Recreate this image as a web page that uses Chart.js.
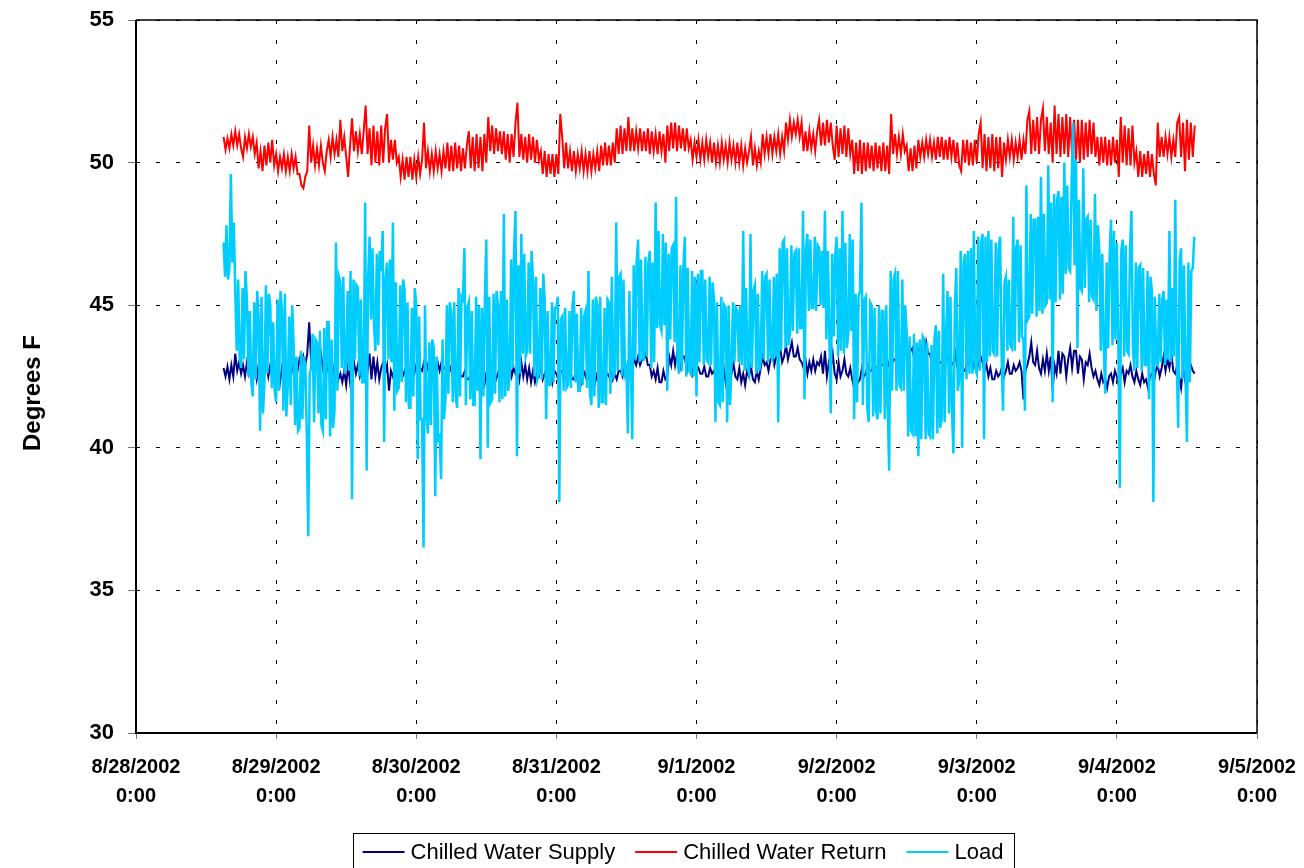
<!DOCTYPE html>
<html><head><meta charset="utf-8">
<script src="https://cdn.jsdelivr.net/npm/chart.js@4.4.1/dist/chart.umd.min.js"></script>
<style>html,body{margin:0;padding:0;background:#fff}#wrap{width:1304px;height:868px}</style>
</head><body><div id="wrap"><canvas id="c" width="1304" height="868"></canvas></div>
<script>
// time axis in hours from 8/28/2002 0:00
const startHour = 15;          // first reading 8/28/2002 15:00
const loadStepMin = 15;        // Load readings every 15 min
const tempStepMin = 20;        // supply/return readings every 20 min
const xTickLabels = [
  ['8/28/2002','0:00'],['8/29/2002','0:00'],['8/30/2002','0:00'],['8/31/2002','0:00'],
  ['9/1/2002','0:00'],['9/2/2002','0:00'],['9/3/2002','0:00'],['9/4/2002','0:00'],['9/5/2002','0:00']
];
const seriesNames = ['Chilled Water Supply','Chilled Water Return','Load'];
const yAxisTitle = 'Degrees F';

const supply = [
42.8,42.5,42.85,42.4,42.9,42.5,43.3,42.7,43.0,42.6,42.9,42.5,43.0,42.6,42.9,42.5,42.8,42.4,42.9,42.5,43.0,42.6,43.0,42.5,42.9,42.5,42.8,
42.4,42.7,42.3,42.8,42.4,42.7,42.3,42.5,42.9,42.6,43.0,42.7,43.1,42.8,43.2,42.9,43.3,44.4,43.0,43.3,42.9,43.2,42.9,43.3,42.8,43.1,42.7,
43.0,42.6,42.9,42.5,42.8,42.4,42.6,42.3,42.7,42.2,42.9,42.3,42.7,43.0,42.6,42.9,42.5,42.8,42.6,43.1,42.7,43.3,42.4,43.2,42.5,43.0,42.4,
42.8,43.0,42.6,42.9,42.0,42.7,42.5,42.8,42.4,42.6,42.9,42.5,42.7,42.4,42.8,42.5,42.8,42.6,
42.9,42.5,42.8,42.7,43.0,42.6,42.9,42.6,43.0,43.1,42.7,43.0,42.7,43.0,42.8,42.8,42.5,42.9,42.7,42.9,42.5,42.6,42.8,42.5,
42.5,42.7,42.4,42.4,42.6,42.3,42.2,42.5,42.1,42.0,42.4,42.2,42.6,42.3,42.5,42.5,42.8,42.4,42.6,42.9,42.5,42.7,42.4,42.8,
42.9,42.5,42.8,42.6,42.8,42.4,43.0,42.5,42.9,42.4,42.8,42.3,42.7,42.3,42.6,42.5,42.9,42.4,42.6,42.4,42.8,42.8,42.3,42.7,
42.6,42.4,42.7,42.7,42.3,42.6,42.5,42.8,42.4,42.4,42.7,42.3,42.6,42.3,42.7,42.5,42.8,42.4,42.4,42.7,42.3,42.6,42.3,42.7,
42.7,42.4,42.6,42.5,42.8,42.4,42.6,42.4,42.7,42.7,42.5,42.8,42.6,42.9,42.7,42.8,43.1,42.9,43.2,42.9,43.1,43.1,43.3,42.9,
42.9,42.5,42.7,42.4,42.8,42.3,42.3,42.7,42.4,42.5,43.2,42.9,43.4,42.9,43.3,43.1,42.8,43.2,43.2,42.7,43.1,43.0,42.6,42.9,
42.7,42.8,42.6,42.6,42.85,42.5,42.5,42.8,42.6,42.7,42.4,42.8,42.9,42.5,42.8,42.3,42.8,42.4,42.6,42.95,42.5,42.4,42.8,42.3,
42.6,42.2,42.7,42.5,42.85,42.4,42.3,42.7,42.4,42.8,43.2,42.9,43.0,42.7,43.1,43.3,42.9,43.2,43.1,43.5,43.0,43.2,43.6,43.1,
43.4,43.7,43.2,43.2,43.5,43.1,43.0,42.8,43.1,42.6,43.0,42.7,43.1,42.7,43.0,42.9,43.2,42.6,43.4,42.5,43.0,42.8,43.3,42.6,
42.4,43.0,42.5,42.7,43.1,42.6,42.5,42.8,42.4,42.1,42.6,42.3,42.4,42.8,42.5,42.6,42.9,42.7,42.7,43.0,42.8,42.8,43.1,42.9,
42.9,43.2,42.8,43.0,42.7,43.1,43.1,42.9,43.2,43.2,43.0,43.3,43.3,43.1,43.4,43.5,43.0,43.4,43.4,43.6,43.2,43.2,43.7,43.3,
43.3,42.9,43.2,43.1,42.8,43.0,43.0,42.7,43.1,43.2,42.8,43.0,42.9,43.3,42.8,42.8,43.1,42.7,42.7,43.0,42.9,43.2,42.8,43.1,
43.1,42.9,43.2,43.0,42.7,42.9,42.5,42.8,42.4,42.4,42.7,42.5,42.6,42.85,42.5,42.7,43.0,42.6,42.6,42.9,42.7,42.8,43.0,42.7,
41.7,42.7,42.9,43.2,43.7,43.0,42.9,43.4,42.8,42.6,43.1,42.7,43.3,42.7,43.2,42.0,42.9,42.6,43.4,42.6,43.3,43.2,42.5,43.1,
43.5,42.8,43.4,43.4,42.6,43.2,43.1,42.4,43.0,42.9,43.3,42.8,42.5,42.7,42.4,42.2,42.6,42.3,42.4,42.1,42.5,42.6,42.3,42.7,
42.5,42.2,42.6,42.8,42.3,42.7,42.6,42.9,42.5,42.3,42.7,42.4,42.2,42.6,42.3,42.4,42.1,42.5,42.6,42.3,42.7,42.9,42.5,42.8,
43.2,42.7,43.1,42.8,43.3,42.7,42.6,42.9,42.5,42.1,42.8,42.4,43.0,42.5,42.9,42.7,42.6
];

const ret = [
50.9,50.45,50.85,50.5,51.0,50.6,51.1,50.6,51.0,50.5,50.2,50.9,50.5,51.0,50.55,50.9,50.3,50.7,49.8,50.4,49.7,50.6,49.9,50.7,50.0,50.8,49.9,
50.3,49.7,50.2,49.8,50.3,49.7,50.2,49.7,50.3,49.8,50.2,49.6,49.6,49.2,49.1,49.5,49.7,51.3,50.0,50.6,49.9,50.5,49.9,50.6,50.0,49.7,50.4,
50.8,50.2,50.9,50.3,50.8,50.2,51.5,50.4,50.9,50.2,49.5,50.6,51.55,50.4,51.1,50.4,51.0,50.3,51.1,52.0,50.3,51.2,49.9,51.3,50.0,51.1,49.9,
51.3,50.0,51.2,51.7,50.0,50.8,50.1,50.8,50.0,50.2,49.5,50.1,49.4,50.2,49.5,50.2,49.4,50.1,
49.5,50.2,49.6,50.1,51.4,49.8,50.4,49.7,50.3,49.7,50.4,49.8,50.3,49.7,50.4,49.8,50.7,49.7,50.6,49.7,50.7,49.8,50.6,49.7,
50.5,49.8,50.6,51.1,49.8,50.9,49.7,51.0,49.8,50.9,49.7,51.0,50.0,51.6,50.4,51.3,50.3,51.2,50.4,51.1,50.3,51.1,50.1,51.0,
50.0,51.0,50.2,51.4,52.1,50.2,51.0,50.1,50.9,50.0,51.0,50.1,50.9,50.0,50.8,50.1,50.4,49.6,50.4,49.5,50.3,49.6,50.3,49.5,
50.3,49.6,51.7,50.9,49.8,50.7,49.8,50.4,49.7,50.4,49.7,50.3,49.8,50.4,49.7,50.3,49.7,50.4,49.7,50.3,49.8,50.4,49.7,50.6,
49.9,50.7,49.9,50.6,49.9,50.7,50.0,51.2,50.3,51.3,50.3,51.2,50.4,51.6,50.4,51.2,50.4,51.1,50.5,51.2,50.4,51.1,50.4,51.2,
50.3,51.1,50.4,51.0,50.3,51.1,50.4,51.0,50.0,51.3,50.4,51.4,50.5,51.4,50.4,51.3,50.5,51.2,50.4,51.2,50.5,50.8,50.1,50.7,
50.2,50.8,50.1,50.7,50.1,50.8,50.2,50.7,50.0,50.7,50.0,50.6,50.0,50.7,50.1,50.6,50.0,50.7,50.1,50.6,50.0,50.7,50.0,50.6,
49.9,50.5,50.0,50.4,50.9,49.9,50.5,49.9,50.4,50.0,51.0,50.3,50.9,50.3,51.0,50.3,50.9,50.4,51.0,50.3,50.9,50.4,51.4,50.8,
51.5,50.9,51.4,51.0,51.5,50.9,51.4,50.4,51.1,50.4,51.1,50.5,51.0,50.4,51.1,51.5,50.6,51.4,50.6,51.5,50.7,51.4,50.6,50.1,
51.3,50.2,51.2,50.3,51.3,50.2,51.2,50.3,50.8,49.6,50.7,49.7,50.8,49.6,50.7,49.7,50.7,49.8,50.6,49.7,50.7,49.8,50.6,49.7,
50.7,49.7,50.6,49.6,51.7,50.3,51.0,50.3,50.9,50.3,51.0,50.4,50.6,49.7,50.5,49.7,50.6,49.8,50.8,50.2,50.7,50.2,50.8,50.3,
50.8,50.2,50.7,50.1,50.9,50.2,50.9,50.1,50.8,50.1,50.9,50.2,50.8,50.0,50.7,49.9,49.7,50.8,50.0,50.8,49.9,50.7,49.9,50.8,
50.0,51.0,51.4,49.8,51.0,49.7,50.9,49.8,51.0,49.7,50.9,49.8,50.9,49.5,50.7,50.1,50.8,50.2,50.8,50.1,50.7,50.2,50.8,50.1,
50.8,50.3,51.5,51.8,50.3,51.5,50.4,51.6,50.3,51.5,51.9,50.4,51.6,50.3,51.4,50.0,52.0,50.3,51.7,50.2,51.6,50.3,51.7,50.2,
51.6,50.2,51.5,50.1,51.5,50.0,51.5,50.1,51.4,50.2,51.5,50.3,51.4,50.2,50.9,49.9,50.9,50.0,50.9,49.9,50.8,49.9,50.9,50.0,
50.8,49.5,51.6,50.0,51.3,49.9,51.2,49.9,51.3,50.0,50.4,49.5,50.4,49.5,50.3,49.6,50.4,49.5,50.3,49.6,49.2,51.4,50.2,50.9,
50.2,50.9,50.3,50.9,50.2,50.8,50.2,51.4,51.6,50.2,51.4,49.7,51.5,50.1,51.4,50.2,51.3
];

const load = [
47.2,46.0,47.8,45.9,46.3,49.6,46.5,47.9,45.5,43.4,45.9,43.2,42.8,45.6,43.1,46.2,45.2,42.5,44.8,42.3,41.8,45.1,42.4,45.5,
44.6,40.6,45.3,41.2,42.3,45.7,42.6,45.4,45.0,42.1,44.4,42.0,
41.6,45.2,42.0,45.5,44.8,41.3,45.4,41.1,42.2,44.6,41.5,45.0,43.6,40.8,43.2,40.6,40.7,43.4,41.0,43.1,43.0,40.5,36.9,42.6,
42.8,44.0,40.9,43.8,43.7,41.2,44.1,40.8,40.6,44.2,41.0,44.4,44.4,40.4,43.8,40.7,41.3,47.2,42.0,46.0,45.8,42.8,46.0,42.6,
43.0,45.5,42.7,46.2,38.2,45.9,43.1,45.7,45.6,42.5,45.2,42.3,42.3,48.6,39.2,45.9,47.4,44.5,47.0,44.4,43.4,46.8,43.6,46.9,
46.2,47.6,40.2,46.0,46.5,43.1,46.6,43.0,47.9,41.3,45.8,42.0,42.1,45.7,42.3,45.9,45.5,41.6,45.1,41.4,41.4,44.9,41.8,45.6,
45.0,39.6,44.6,41.0,41.0,36.5,45.0,41.2,40.5,43.7,40.8,43.8,43.5,38.3,43.2,40.3,40.4,38.9,43.8,41.0,41.7,45.0,41.9,45.1,
44.7,41.6,45.1,41.8,41.4,45.6,41.8,45.3,45.2,47.0,41.5,44.9,45.1,41.7,44.8,41.5,41.5,45.3,42.0,45.0,39.6,44.9,41.8,45.2,
47.3,40.0,45.3,41.6,41.7,45.4,41.9,45.5,45.0,41.6,45.5,41.7,48.2,41.8,45.2,42.0,42.5,46.6,42.8,46.9,48.3,39.7,46.4,42.6,
47.5,43.3,46.8,43.2,43.4,46.5,43.3,46.9,45.9,42.5,46.0,42.4,42.6,45.6,42.4,46.1,45.2,41.0,44.8,42.2,42.2,45.1,42.3,44.9,
44.9,45.3,38.1,44.5,44.6,42.0,44.9,42.1,42.2,44.8,42.1,45.0,45.5,42.3,44.7,42.0,42.0,44.9,42.2,44.6,44.8,42.1,46.2,41.9,
41.5,45.2,41.8,45.3,45.0,41.4,45.3,41.6,41.6,44.9,41.5,45.2,45.1,41.9,46.0,42.5,42.6,47.9,42.7,46.0,46.1,42.5,45.9,42.6,
42.8,40.5,45.5,42.9,40.3,46.4,43.1,46.5,47.3,43.0,46.6,43.1,43.1,46.7,43.2,46.5,46.9,42.8,46.5,43.0,48.6,44.2,47.6,44.3,
44.1,47.5,44.3,47.2,42.0,46.8,43.8,47.0,47.1,43.7,48.8,43.0,42.6,46.4,42.7,46.3,47.4,42.5,46.3,42.7,42.6,46.2,42.5,46.0,
41.8,46.1,43.0,46.2,46.2,42.9,45.9,43.1,43.0,46.0,42.9,45.8,45.2,40.9,45.1,41.6,41.5,45.3,41.6,45.0,44.9,40.9,45.0,41.5,
42.9,45.1,43.0,44.9,44.8,43.0,45.0,42.9,47.6,42.7,45.6,42.8,42.6,47.5,42.8,45.5,45.7,42.6,45.4,42.7,43.0,46.2,43.1,46.0,
46.1,43.0,45.9,43.2,43.1,46.0,43.2,46.1,40.9,47.0,43.4,47.2,47.3,43.5,47.0,43.6,44.0,47.1,44.1,46.8,46.9,44.0,47.0,44.2,
44.2,48.3,41.7,47.0,47.5,44.8,47.3,44.9,44.9,47.4,44.8,47.1,47.0,45.0,46.9,44.9,48.3,43.8,46.9,44.0,41.2,46.8,43.9,46.7,
47.4,43.2,47.0,43.4,48.3,43.3,47.2,43.5,44.0,47.5,44.1,47.3,41.0,45.4,41.6,45.3,45.5,48.6,41.5,45.2,45.3,41.4,40.9,45.1,
45.0,41.1,44.9,41.3,41.0,45.0,41.2,44.8,44.8,41.0,45.0,41.4,39.2,46.2,42.0,45.9,46.1,42.0,46.2,42.2,42.1,45.9,42.0,45.0,
44.0,40.4,43.9,40.6,40.5,44.0,40.4,43.7,39.7,43.8,40.3,43.9,43.8,40.3,43.7,40.5,40.4,43.6,40.3,43.8,44.3,40.5,44.1,40.7,
41.0,46.1,40.9,44.0,45.5,41.2,45.3,41.4,39.8,45.0,46.3,42.0,42.4,46.9,40.0,46.5,46.8,42.4,46.9,42.6,47.0,42.6,47.6,42.8,
42.6,47.4,42.7,47.2,47.5,40.3,47.4,43.0,47.6,43.2,47.3,43.4,43.3,47.2,43.2,47.0,47.4,43.3,41.3,45.8,46.0,43.4,45.9,43.6,
43.5,48.1,43.4,47.0,47.3,43.7,47.1,43.9,43.8,41.3,49.2,44.5,44.6,48.2,44.7,48.0,48.0,44.6,48.1,44.8,49.5,44.7,48.2,45.0,
45.1,49.9,45.2,48.6,41.6,48.9,45.1,48.7,49.0,45.2,48.8,45.4,50.0,46.1,49.2,46.3,46.2,49.3,51.4,46.4,50.1,43.5,48.7,45.6,
45.5,49.8,45.6,48.0,48.1,45.1,48.0,45.3,45.2,48.9,44.8,47.8,46.9,43.4,46.8,43.6,41.9,46.5,43.5,46.7,48.0,43.6,47.6,43.8,
47.2,43.7,38.6,46.9,47.3,43.2,47.1,43.4,43.3,47.0,48.3,43.5,42.7,46.5,42.8,46.3,46.4,42.7,46.3,42.9,42.9,46.2,41.7,46.0,
45.5,38.1,45.3,43.0,42.9,45.4,43.0,45.2,45.5,42.9,45.2,43.1,47.6,43.0,45.6,43.2,48.7,43.1,40.7,46.6,47.0,42.4,46.4,42.6,
40.2,46.5,42.3,46.2,46.3,47.4
];

function toPoints(arr, stepMin){ return arr.map((v,i)=>({x: startHour + i*stepMin/60, y: v})); }

const frame = {
  id: 'frame',
  afterDatasetsDraw(chart){
    const {ctx, chartArea:a} = chart;
    ctx.save();
    ctx.strokeStyle = '#000';
    ctx.lineWidth = 1.5;
    ctx.beginPath();
    ctx.moveTo(a.left, a.top); ctx.lineTo(a.right, a.top); ctx.lineTo(a.right, a.bottom);
    ctx.stroke();
    ctx.lineWidth = 2;
    ctx.beginPath();
    ctx.moveTo(a.left, a.top); ctx.lineTo(a.left, a.bottom); ctx.lineTo(a.right, a.bottom);
    ctx.stroke();
    ctx.restore();
  },
  afterDraw(chart){
    const ctx = chart.ctx;
    const ds = chart.data.datasets;
    ctx.save();
    // y-axis title
    ctx.save();
    ctx.translate(33, 393);
    ctx.rotate(-Math.PI/2);
    ctx.font = 'bold 24px "Liberation Sans", Arial, sans-serif';
    ctx.fillStyle = '#000';
    ctx.textAlign = 'center';
    ctx.textBaseline = 'middle';
    ctx.fillText(yAxisTitle, 0, 0);
    ctx.restore();
    // legend
    ctx.font = '22px "Liberation Sans", Arial, sans-serif';
    ctx.textBaseline = 'middle';
    const lineW = 42, gapLT = 6, gapItem = 20;
    const widths = ds.map(d => lineW + gapLT + ctx.measureText(d.label).width);
    const total = widths.reduce((s,w)=>s+w,0) + gapItem*(ds.length-1);
    let x = 683 - total/2;
    const y = 852;
    ctx.strokeStyle = '#000'; ctx.lineWidth = 1;
    ctx.strokeRect(Math.round(x-10)+0.5, 833.5, Math.round(total+20), 40);
    ds.forEach((d,i)=>{
      ctx.strokeStyle = d.borderColor; ctx.lineWidth = 2;
      ctx.beginPath(); ctx.moveTo(x, y); ctx.lineTo(x+lineW, y); ctx.stroke();
      ctx.fillStyle = '#000';
      ctx.fillText(d.label, x+lineW+gapLT, y+1);
      x += widths[i] + gapItem;
    });
    ctx.restore();
  }
};

new Chart(document.getElementById('c'), {
  type: 'line',
  data: {
    datasets: [
      {label: seriesNames[0], data: toPoints(supply, tempStepMin), borderColor: '#000080', backgroundColor: '#000080', borderWidth: 2, pointRadius: 0, order: 2},
      {label: seriesNames[1], data: toPoints(ret, tempStepMin), borderColor: '#FF0000', backgroundColor: '#FF0000', borderWidth: 2, pointRadius: 0, order: 1},
      {label: seriesNames[2], data: toPoints(load, loadStepMin), borderColor: '#00CCFF', backgroundColor: '#00CCFF', borderWidth: 2.5, pointRadius: 0, order: 0}
    ]
  },
  options: {
    responsive: false, animation: false, devicePixelRatio: 1,
    layout: {padding: {left: 0, top: 20, right: 47, bottom: 0}},
    plugins: {legend: {display: false}, tooltip: {enabled: false}},
    scales: {
      x: {
        type: 'linear', min: 0, max: 192,
        afterFit(s){ s.height = 135; s.paddingLeft = 0; s.paddingRight = 0; },
        ticks: {stepSize: 24, autoSkip: false, maxRotation: 0, padding: 14, color: '#000',
          font: {family: '"Liberation Sans", Arial, sans-serif', size: 20, weight: 'bold', lineHeight: 1.45},
          callback: v => xTickLabels[Math.round(v/24)]},
        grid: {color: '#000', lineWidth: 1, tickLength: 6, tickColor: '#777'},
        border: {display: false, dash: [4,16]}
      },
      y: {
        min: 30, max: 55,
        afterFit(s){ s.width = 136; s.paddingTop = 0; s.paddingBottom = 0; },
        ticks: {stepSize: 5, padding: 14, color: '#000',
          font: {family: '"Liberation Sans", Arial, sans-serif', size: 22, weight: 'bold'}},
        grid: {color: '#000', lineWidth: 1, tickLength: 8, tickColor: '#777'},
        border: {display: false, dash: [4,16]},
        title: {display: false}
      }
    }
  },
  plugins: [frame]
});
</script>
</body></html>
